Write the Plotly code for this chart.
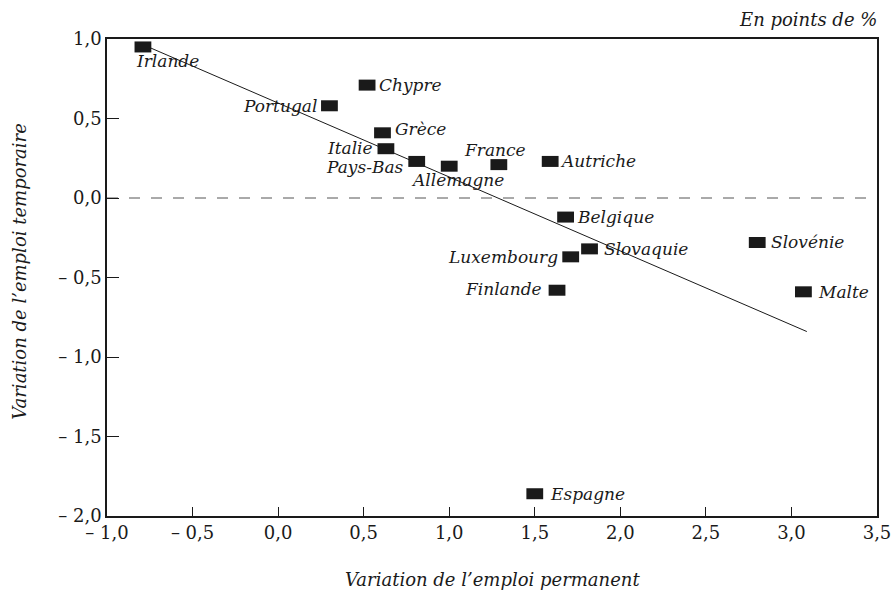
import plotly.graph_objects as go

# ---- data ----
countries = ["Irlande", "Chypre", "Portugal", "Grèce", "Italie", "Pays-Bas", "Allemagne",
             "France", "Autriche", "Belgique", "Slovaquie", "Luxembourg", "Finlande",
             "Espagne", "Slovénie", "Malte"]
perm_change = [-0.79, 0.52, 0.30, 0.61, 0.63, 0.81, 1.00, 1.29, 1.59, 1.68, 1.82, 1.71, 1.63,
               1.50, 2.80, 3.07]
temp_change = [0.95, 0.71, 0.58, 0.41, 0.31, 0.23, 0.20, 0.21, 0.23, -0.12, -0.32, -0.37, -0.58,
               -1.86, -0.28, -0.59]
fit_x = [-0.78, 3.09]
fit_y = [0.96, -0.84]

x_ticks = [-1.0, -0.5, 0.0, 0.5, 1.0, 1.5, 2.0, 2.5, 3.0, 3.5]
x_ticktext = ["– 1,0", "– 0,5", "0,0", "0,5", "1,0", "1,5", "2,0", "2,5", "3,0", "3,5"]
y_ticks = [-2.0, -1.5, -1.0, -0.5, 0.0, 0.5, 1.0]
y_ticktext = ["– 2,0", "– 1,5", "– 1,0", "– 0,5", "0,0", "0,5", "1,0"]

# ---- label placement (style) ----
placement = {
    "Irlande": ("left", -9, -14),
    "Chypre": ("left", 10, 0),
    "Portugal": ("right", -10, 0),
    "Grèce": ("left", 11, 4),
    "Italie": ("right", -11, 1),
    "Pays-Bas": ("right", -11, -6),
    "Allemagne": ("center", 8, -14),
    "France": ("center", -4, 15),
    "Autriche": ("left", 8, 0),
    "Belgique": ("left", 9, 0),
    "Slovaquie": ("left", 12, 0),
    "Luxembourg": ("right", -11, 0),
    "Finlande": ("right", -13, 1),
    "Espagne": ("left", 13, 0),
    "Slovénie": ("left", 12, 1),
    "Malte": ("left", 13, 0),
}

INK = "#1a1a1a"
SERIF = "DejaVu Serif"

fig = go.Figure()

fig.add_trace(go.Scatter(
    x=[-1.0, 3.5], y=[0, 0], mode="lines",
    line=dict(color="#555555", width=1, dash="11px,11px"),
    hoverinfo="skip", showlegend=False))

fig.add_trace(go.Scatter(
    x=fit_x, y=fit_y, mode="lines",
    line=dict(color=INK, width=1),
    hoverinfo="skip", showlegend=False))

fig.add_trace(go.Scatter(
    x=perm_change, y=temp_change, mode="markers",
    marker=dict(symbol="line-ew", size=12, color=INK,
                line=dict(color=INK, width=11)),
    text=countries, hoverinfo="text", showlegend=False))

annotations = []
for name, xv, yv in zip(countries, perm_change, temp_change):
    anchor, dx, dy = placement[name]
    annotations.append(dict(
        x=xv, y=yv, xref="x", yref="y", text=name, showarrow=False,
        xanchor=anchor, yanchor="middle", xshift=dx, yshift=dy,
        font=dict(family=SERIF, size=17, color=INK, style="italic")))

annotations += [
    dict(text="Variation de l’emploi permanent", xref="paper", yref="paper",
         x=0.5, y=-0.134, xanchor="center", yanchor="middle", showarrow=False,
         font=dict(family=SERIF, size=18, color=INK, style="italic")),
    dict(text="Variation de l’emploi temporaire", xref="paper", yref="paper",
         x=-0.113, y=0.514, xanchor="center", yanchor="middle", showarrow=False,
         textangle=-90, font=dict(family=SERIF, size=18, color=INK, style="italic")),
    dict(text="En points de %", xref="paper", yref="paper",
         x=1.003, y=1.04, xanchor="right", yanchor="middle", showarrow=False,
         font=dict(family=SERIF, size=18, color=INK, style="italic")),
]

fig.update_layout(
    width=892, height=593,
    margin=dict(l=107, r=15, t=39, b=77, autoexpand=False),
    paper_bgcolor="white", plot_bgcolor="white",
    font=dict(family=SERIF, color=INK),
    annotations=annotations,
    xaxis=dict(range=[-1.0, 3.5], tickvals=x_ticks, ticktext=x_ticktext,
               ticks="inside", ticklen=9, tickwidth=1, tickcolor=INK,
               showline=True, linecolor=INK, linewidth=1.5, mirror=True,
               showgrid=False, zeroline=False, automargin=False,
               ticklabeloverflow="allow",
               tickfont=dict(family=SERIF, size=18, color=INK)),
    yaxis=dict(range=[-2.0, 1.0], tickvals=y_ticks, ticktext=y_ticktext,
               ticks="inside", ticklen=12, tickwidth=1, tickcolor=INK,
               showline=True, linecolor=INK, linewidth=1.5, mirror=True,
               showgrid=False, zeroline=False, automargin=False,
               ticklabeloverflow="allow",
               tickfont=dict(family=SERIF, size=18, color=INK)),
)

# remove the browser's default 8px body margin so the 892x593 figure fills the window
fig.write_html("out.html", config={"displayModeBar": False},
               post_script="document.body.style.margin='0';")
